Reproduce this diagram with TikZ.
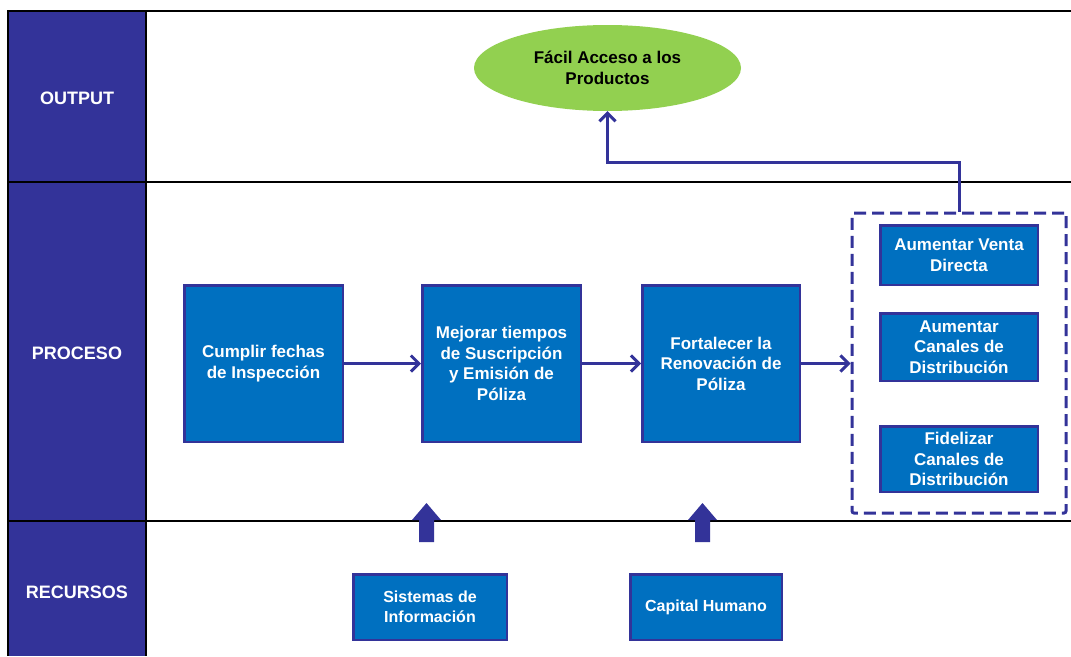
\documentclass[tikz,border=0pt]{standalone}
\usepackage{fontspec}
\setmainfont{Liberation Sans}
\usetikzlibrary{arrows.meta,shapes.geometric}
\definecolor{navy}{RGB}{51,51,153}
\definecolor{boxblue}{RGB}{0,112,192}
\definecolor{leaf}{RGB}{146,208,80}
\begin{document}
\begin{tikzpicture}[x=1pt,y=-1pt,
  rowlabel/.style={text=white,font=\fontsize{18}{21}\selectfont\bfseries},
  stepbox/.style={draw=navy,line width=2.5pt,fill=boxblue,text=white,inner sep=0pt,
    align=center,font=\fontsize{17}{20.5}\selectfont\bfseries},
  flow/.style={draw=navy,line width=3pt,-{Straight Barb[length=8pt,width=16pt,line width=3pt]}},
  rule/.style={line width=1.6pt,black},
  bigarrow/.style={fill=navy}]
\useasboundingbox (0,0) rectangle (1071,656);

% label column and grid
\fill[navy] (8,11) rectangle (146,656);
\draw[rule] (7,11) -- (1071,11);
\draw[rule] (7,182) -- (1071,182);
\draw[rule] (7,521) -- (1071,521);
\draw[rule] (8,11) -- (8,656);
\draw[rule] (146,11) -- (146,656);

\node[rowlabel] (lout) at (77,98) {OUTPUT};
\node[rowlabel] (lproc) at (77,353) {PROCESO};
\node[rowlabel] (lrec) at (77,592) {RECURSOS};

% output
\node[ellipse,fill=leaf,minimum width=267pt,minimum height=86pt,inner sep=0pt,
  align=center,font=\fontsize{17}{20.5}\selectfont\bfseries] (goal) at (607.5,68)
  {F\'acil Acceso a los\\Productos};

% process chain
\node[stepbox,minimum width=158.5pt,minimum height=156.5pt] (p1) at (263.5,363.5)
  {Cumplir fechas\\de Inspecci\'on};
\node[stepbox,minimum width=158.5pt,minimum height=156.5pt] (p2) at (501.5,363.5)
  {Mejorar tiempos\\de Suscripci\'on\\y Emisi\'on de\\P\'oliza};
\node[stepbox,minimum width=157.5pt,minimum height=156.5pt] (p3) at (721,363.5)
  {Fortalecer la\\Renovaci\'on de\\P\'oliza};

% grouped results
\node[draw=navy,line width=3pt,dash pattern=on 12pt off 6pt,rounded corners=2pt,
  minimum width=214pt,minimum height=300pt,inner sep=0pt] (grp) at (959,363) {};
\node[stepbox,minimum width=157.5pt,minimum height=59.5pt] (g1) at (959,255)
  {Aumentar Venta\\Directa};
\node[stepbox,minimum width=157.5pt,minimum height=67.5pt] (g2) at (959,347)
  {Aumentar\\Canales de\\Distribuci\'on};
\node[stepbox,minimum width=157.5pt,minimum height=65.5pt] (g3) at (959,459)
  {Fidelizar\\Canales de\\Distribuci\'on};

\draw[flow] (p1.east) -- (p2.west);
\draw[flow] (p2.east) -- (p3.west);
\draw[flow] (p3.east) -- (p3.east -| grp.west);
\coordinate (bend) at (607.5,162);
\draw[flow] (grp.north) |- (bend) -- (goal.south);

% resources
\node[stepbox,minimum width=153.5pt,minimum height=65.5pt,
  font=\fontsize{16}{20}\selectfont\bfseries] (r1) at (430,607)
  {Sistemas de\\Informaci\'on};
\node[stepbox,minimum width=151.5pt,minimum height=65.5pt,
  font=\fontsize{16}{20}\selectfont\bfseries] (r2) at (706,607)
  {Capital Humano};

\fill[bigarrow] (419,542) -- (419,520) -- (412,520) -- (426.5,503) -- (441,520)
  -- (434,520) -- (434,542) -- cycle;
\fill[bigarrow] (695,542) -- (695,520) -- (688,520) -- (702.5,503) -- (717,520)
  -- (710,520) -- (710,542) -- cycle;
\end{tikzpicture}
\end{document}
